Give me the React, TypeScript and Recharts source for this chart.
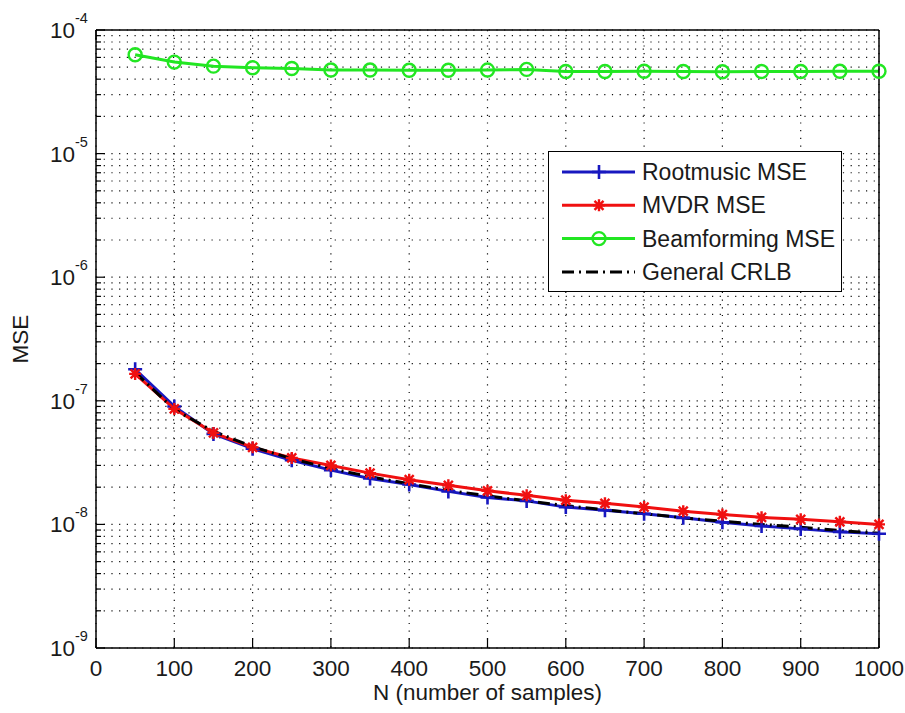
import React from 'react';
import { LineChart, Line, XAxis, YAxis, CartesianGrid, Legend } from 'recharts';

const sampleCounts = [50, 100, 150, 200, 250, 300, 350, 400, 450, 500, 550, 600, 650, 700, 750, 800, 850, 900, 950, 1000];
const rootmusicMSE = [1.8e-7, 9.0e-8, 5.4e-8, 4.1e-8, 3.3e-8, 2.75e-8, 2.35e-8, 2.1e-8, 1.85e-8, 1.65e-8, 1.55e-8, 1.38e-8, 1.3e-8, 1.22e-8, 1.13e-8, 1.04e-8, 9.7e-9, 9.2e-9, 8.7e-9, 8.4e-9];
const mvdrMSE = [1.65e-7, 8.6e-8, 5.5e-8, 4.2e-8, 3.45e-8, 3.0e-8, 2.6e-8, 2.3e-8, 2.07e-8, 1.87e-8, 1.72e-8, 1.57e-8, 1.48e-8, 1.38e-8, 1.28e-8, 1.2e-8, 1.14e-8, 1.1e-8, 1.05e-8, 1.0e-8];
const beamformingMSE = [6.3e-5, 5.5e-5, 5.1e-5, 4.95e-5, 4.88e-5, 4.75e-5, 4.75e-5, 4.72e-5, 4.72e-5, 4.74e-5, 4.8e-5, 4.62e-5, 4.62e-5, 4.64e-5, 4.62e-5, 4.6e-5, 4.62e-5, 4.62e-5, 4.64e-5, 4.64e-5];
const generalCRLB = [1.7e-7, 8.5e-8, 5.67e-8, 4.25e-8, 3.4e-8, 2.83e-8, 2.43e-8, 2.13e-8, 1.89e-8, 1.7e-8, 1.55e-8, 1.42e-8, 1.31e-8, 1.22e-8, 1.13e-8, 1.06e-8, 1.0e-8, 9.5e-9, 8.9e-9, 8.5e-9];

const xTicks = [0, 100, 200, 300, 400, 500, 600, 700, 800, 900, 1000];
const decades = [1e-9, 1e-8, 1e-7, 1e-6, 1e-5];
const mantissas = [1, 2, 3, 4, 5, 6, 7, 8, 9];
const yTicks = [...decades.flatMap((d) => mantissas.map((m) => m * d)), 1e-4];

const seriesNames = ['Rootmusic MSE', 'MVDR MSE', 'Beamforming MSE', 'General CRLB'];
const BLUE = '#1818c0';
const RED = '#f01010';
const GREEN = '#22e622';
const BLACK = '#000000';
const FONT = '"Liberation Sans", Arial, sans-serif';
const TEXT = '#1a1a1a';

const data = sampleCounts.map((n, i) => ({
  N: n,
  root: rootmusicMSE[i],
  mvdr: mvdrMSE[i],
  beam: beamformingMSE[i],
  crlb: generalCRLB[i],
}));

const isDecade = (v: number) => {
  const e = Math.round(Math.log10(v));
  return Math.abs(v / Math.pow(10, e) - 1) < 1e-6;
};

const LeftTick = (props: any) => {
  const { x, y, payload } = props;
  const v = payload.value;
  const dec = isDecade(v);
  const e = Math.round(Math.log10(v));
  return (
    <g>
      <line x1={x} x2={x + (dec ? 9 : 5)} y1={y} y2={y} stroke="#000" strokeWidth={1.2} />
      {dec && (
        <text x={x - 46} y={y + 8} fontSize={22.5} fill={TEXT} fontFamily={FONT}>
          10
          <tspan dy={-15} fontSize={14.5}>{String(e)}</tspan>
        </text>
      )}
    </g>
  );
};

const RightTick = (props: any) => {
  const { x, y, payload } = props;
  const dec = isDecade(payload.value);
  return <line x1={x} x2={x - (dec ? 9 : 5)} y1={y} y2={y} stroke="#000" strokeWidth={1.2} />;
};

const BottomTick = (props: any) => {
  const { x, y, payload } = props;
  return (
    <g>
      <line x1={x} x2={x} y1={y} y2={y - 10} stroke="#000" strokeWidth={1.2} />
      <text x={x} y={y + 28} textAnchor="middle" fontSize={22.5} fill={TEXT} fontFamily={FONT}>
        {String(payload.value)}
      </text>
    </g>
  );
};

const TopTick = (props: any) => {
  const { x, y } = props;
  return <line x1={x} x2={x} y1={y} y2={y + 10} stroke="#000" strokeWidth={1.2} />;
};

const XLabel = (props: any) => {
  const vb = props.viewBox || { x: 96, y: 648, width: 783, height: 60 };
  return (
    <text x={vb.x + vb.width / 2} y={vb.y + 52} textAnchor="middle" fontSize={22.5} fill={TEXT} fontFamily={FONT}>
      N (number of samples)
    </text>
  );
};

const YLabel = (props: any) => {
  const vb = props.viewBox || { x: 36, y: 30, width: 60, height: 618 };
  const cx = 20;
  const cy = vb.y + vb.height / 2;
  return (
    <text x={cx} y={cy} transform={`rotate(-90, ${cx}, ${cy})`} textAnchor="middle" dominantBaseline="central" fontSize={22.5} fill={TEXT} fontFamily={FONT}>
      MSE
    </text>
  );
};

const plusPath = (cx: number, cy: number, s: number) => `M${cx - s},${cy}H${cx + s}M${cx},${cy - s}V${cy + s}`;
const starPath = (cx: number, cy: number, s: number) => {
  const d = s * 0.75;
  return `${plusPath(cx, cy, s)}M${cx - d},${cy - d}L${cx + d},${cy + d}M${cx - d},${cy + d}L${cx + d},${cy - d}`;
};

const PlusDot = (props: any) => {
  const { cx, cy } = props;
  if (cx == null || cy == null) return <g />;
  return <path d={plusPath(cx, cy, 7)} stroke={BLUE} strokeWidth={2.6} fill="none" />;
};
const StarDot = (props: any) => {
  const { cx, cy } = props;
  if (cx == null || cy == null) return <g />;
  return <path d={starPath(cx, cy, 6)} stroke={RED} strokeWidth={2.4} fill="none" />;
};
const CircleDot = (props: any) => {
  const { cx, cy } = props;
  if (cx == null || cy == null) return <g />;
  return <circle cx={cx} cy={cy} r={6.5} stroke={GREEN} strokeWidth={2.4} fill="none" />;
};

const LegendBox = () => {
  const rows = [
    { name: seriesNames[0], color: BLUE, marker: 'plus' },
    { name: seriesNames[1], color: RED, marker: 'star' },
    { name: seriesNames[2], color: GREEN, marker: 'circle' },
    { name: seriesNames[3], color: BLACK, marker: 'none' },
  ];
  return (
    <div style={{ width: 294, height: 141, border: '1.5px solid #000', background: '#fff', boxSizing: 'border-box' }}>
      <svg width={291} height={138} style={{ display: 'block' }}>
        {rows.map((r, i) => {
          const cy = 20 + i * 33.3;
          return (
            <g key={r.name}>
              <line x1={13} x2={86} y1={cy} y2={cy} stroke={r.color} strokeWidth={3} strokeDasharray={r.marker === 'none' ? '12 5 2 5' : undefined} />
              {r.marker === 'plus' && <path d={plusPath(50, cy, 7)} stroke={r.color} strokeWidth={2.6} />}
              {r.marker === 'star' && <path d={starPath(50, cy, 6)} stroke={r.color} strokeWidth={2.4} />}
              {r.marker === 'circle' && <circle cx={50} cy={cy} r={6.5} stroke={r.color} strokeWidth={2.4} fill="none" />}
              <text x={93} y={cy + 8} fontSize={23} fill={TEXT} fontFamily={FONT}>
                {r.name}
              </text>
            </g>
          );
        })}
      </svg>
    </div>
  );
};

export default function App() {
  return (
    <div style={{ position: 'absolute', left: 0, top: 0, width: 905, height: 713, background: '#fff' }}>
      <LineChart width={905} height={713} data={data} margin={{ top: 0, right: 0, bottom: 5, left: 36 }}>
        <CartesianGrid xAxisId="bottom" yAxisId="left" stroke="#111" strokeWidth={1.2} strokeDasharray="1.2 6.5" />
        <XAxis
          xAxisId="bottom"
          dataKey="N"
          type="number"
          domain={[0, 1000]}
          ticks={xTicks}
          interval={0}
          height={60}
          tickSize={0}
          tickMargin={0}
          tickLine={false}
          axisLine={{ stroke: '#000', strokeWidth: 1.5 }}
          tick={<BottomTick />}
          label={<XLabel />}
        />
        <XAxis
          xAxisId="top"
          orientation="top"
          type="number"
          domain={[0, 1000]}
          ticks={xTicks}
          interval={0}
          height={30}
          tickSize={0}
          tickMargin={0}
          tickLine={false}
          axisLine={{ stroke: '#000', strokeWidth: 1.5 }}
          tick={<TopTick />}
        />
        <YAxis
          yAxisId="left"
          scale="log"
          type="number"
          domain={[1e-9, 1e-4]}
          ticks={yTicks}
          interval={0}
          width={60}
          tickSize={0}
          tickMargin={0}
          tickLine={false}
          axisLine={{ stroke: '#000', strokeWidth: 1.5 }}
          tick={<LeftTick />}
          label={<YLabel />}
        />
        <YAxis
          yAxisId="right"
          orientation="right"
          scale="log"
          type="number"
          domain={[1e-9, 1e-4]}
          ticks={yTicks}
          interval={0}
          width={26}
          tickSize={0}
          tickMargin={0}
          tickLine={false}
          axisLine={{ stroke: '#000', strokeWidth: 1.5 }}
          tick={<RightTick />}
        />
        <Legend
          layout="horizontal"
          verticalAlign="middle"
          align="center"
          wrapperStyle={{ position: 'absolute', left: 548, top: 151, width: 294, height: 141 }}
          content={() => <LegendBox />}
        />
        <Line xAxisId="bottom" yAxisId="left" dataKey="root" name={seriesNames[0]} stroke={BLUE} strokeWidth={3} dot={(p: any) => <PlusDot key={`r${p.index}`} {...p} />} activeDot={false} isAnimationActive={false} />
        <Line xAxisId="bottom" yAxisId="left" dataKey="mvdr" name={seriesNames[1]} stroke={RED} strokeWidth={3} dot={(p: any) => <StarDot key={`m${p.index}`} {...p} />} activeDot={false} isAnimationActive={false} />
        <Line xAxisId="bottom" yAxisId="left" dataKey="beam" name={seriesNames[2]} stroke={GREEN} strokeWidth={3} dot={(p: any) => <CircleDot key={`b${p.index}`} {...p} />} activeDot={false} isAnimationActive={false} />
        <Line xAxisId="bottom" yAxisId="left" dataKey="crlb" name={seriesNames[3]} stroke={BLACK} strokeWidth={3} strokeDasharray="12 5 2 5" dot={false} activeDot={false} isAnimationActive={false} />
      </LineChart>
    </div>
  );
}
